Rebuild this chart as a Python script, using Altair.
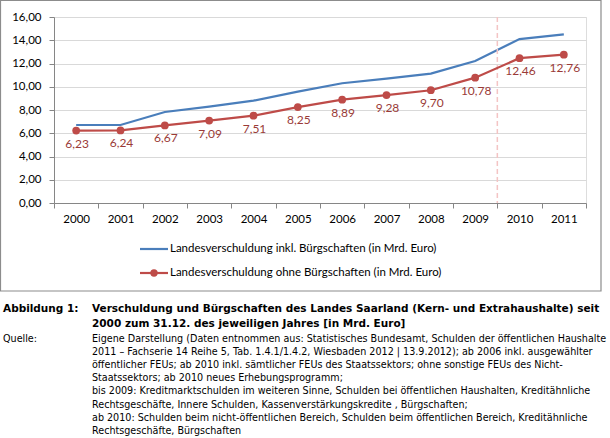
import altair as alt
import pandas as pd

years = ["2000", "2001", "2002", "2003", "2004", "2005", "2006", "2007", "2008", "2009", "2010", "2011"]
inkl = [6.71, 6.71, 7.83, 8.29, 8.80, 9.58, 10.30, 10.70, 11.13, 12.22, 14.10, 14.50]
ohne = [6.23, 6.24, 6.67, 7.09, 7.51, 8.25, 8.89, 9.28, 9.70, 10.78, 12.46, 12.76]
y_ticks = [0, 2, 4, 6, 8, 10, 12, 14, 16]
break_year = ["2010"]

series_inkl = "Landesverschuldung inkl. Bürgschaften (in Mrd. Euro)"
series_ohne = "Landesverschuldung ohne Bürgschaften (in Mrd. Euro)"

caption_label = "Abbildung 1:"
caption_title = ["Verschuldung und Bürgschaften des Landes Saarland (Kern- und Extrahaushalte) seit",
                 "2000 zum 31.12. des jeweiligen Jahres [in Mrd. Euro]"]
source_label = "Quelle:"
caption_source = [
    "Eigene Darstellung (Daten entnommen aus: Statistisches Bundesamt, Schulden der öffentlichen Haushalte",
    "2011 – Fachserie 14 Reihe 5, Tab. 1.4.1/1.4.2,  Wiesbaden 2012 |  13.9.2012);  ab 2006 inkl. ausgewählter",
    "öffentlicher FEUs; ab 2010 inkl.  sämtlicher FEUs des Staatssektors; ohne sonstige FEUs des Nicht-",
    "Staatssektors; ab 2010 neues Erhebungsprogramm;",
    "bis 2009:  Kreditmarktschulden im weiteren Sinne, Schulden bei öffentlichen Haushalten, Kreditähnliche",
    "Rechtsgeschäfte, Innere Schulden, Kassenverstärkungskredite , Bürgschaften;",
    "ab 2010:  Schulden beim nicht-öffentlichen Bereich, Schulden beim öffentlichen Bereich, Kreditähnliche",
    "Rechtsgeschäfte, Bürgschaften",
]

W, H = 532, 186
PL, PT = 54, 17
BLUE = "#4A7EBB"
RED = "#BE4B48"
LABEL_RED = "#9A3A37"
FONT = "Lato"
CAP_FONT = "DejaVu Sans"

df = pd.DataFrame({"year": years, "inkl": inkl, "ohne": ohne})
df["label"] = [f"{v:.2f}".replace(".", ",") for v in ohne]

x_axis = alt.Axis(tickBand="extent", labelAngle=0, domainColor="#868686",
                  tickColor="#868686", tickSize=5, labelPadding=5,
                  labelFont=FONT, labelFontSize=11.5, labelColor="#000000", grid=False, title=None)
xscale = alt.Scale(paddingInner=0, paddingOuter=0)
yscale = alt.Scale(domain=[0, 16], nice=False, zero=True)
y_axis = alt.Axis(values=y_ticks, labelOverlap=False,
                  labelExpr="replace(format(datum.value, '.2f'), '.', ',')",
                  grid=True, gridColor="#D9D9D9", domainColor="#868686", tickColor="#868686",
                  tickSize=5, labelPadding=8, labelFont=FONT, labelFontSize=11.5,
                  labelColor="#000000", title=None)


def X(**kw):
    return alt.X("year:N", sort=years, scale=xscale, axis=x_axis, **kw)


def Y(field):
    return alt.Y(field, type="quantitative", scale=yscale, axis=y_axis)


base = alt.Chart(df)

line_inkl = base.mark_line(color=BLUE, strokeWidth=2.2).encode(x=X(), y=Y("inkl"))
line_ohne = base.mark_line(color=RED, strokeWidth=2.2).encode(x=X(), y=Y("ohne"))
pts_ohne = base.mark_circle(color=RED, size=60, opacity=1).encode(x=X(), y=Y("ohne"))
lbl_ohne = base.mark_text(color=LABEL_RED, font=FONT, fontSize=12, dy=13, dx=1,
                          baseline="middle").encode(x=X(), y=Y("ohne"), text="label:N")

brk = alt.Chart(pd.DataFrame({"year": break_year})).mark_rule(
    color="#F4C4C4", strokeDash=[5, 3], strokeWidth=1.5).encode(
    x=X(bandPosition=0), y=alt.value(0), y2=alt.value(H))

one = pd.DataFrame({"k": [0]})
frame = alt.Chart(one).mark_rect(fill=None, stroke="#8C8C8C", strokeWidth=1.2).encode(
    x=alt.value(-PL + 0.5), x2=alt.value(601 - PL), y=alt.value(-PT + 0.5), y2=alt.value(291 - PT))


def text_at(txt, px, py, **kw):
    return alt.Chart(pd.DataFrame({"t": [txt]})).mark_text(
        align="left", baseline="middle", color="#000000", **kw).encode(
        x=alt.value(px - PL), y=alt.value(py - PT), text="t:N")


# legend
leg_blue = alt.Chart(one).mark_rule(color=BLUE, strokeWidth=2.2).encode(
    x=alt.value(140 - PL), x2=alt.value(168 - PL), y=alt.value(249 - PT))
leg_red = alt.Chart(one).mark_rule(color=RED, strokeWidth=2.2).encode(
    x=alt.value(140 - PL), x2=alt.value(168 - PL), y=alt.value(273 - PT))
leg_red_pt = alt.Chart(one).mark_circle(color=RED, size=55, opacity=1).encode(
    x=alt.value(154 - PL), y=alt.value(273 - PT))
legend_layers = [leg_blue, leg_red, leg_red_pt,
                 text_at(series_inkl, 170, 249, font=FONT, fontSize=11.5),
                 text_at(series_ohne, 170, 273, font=FONT, fontSize=11.5)]

# caption
cap_layers = [text_at(caption_label, 3, 308.5, font=CAP_FONT, fontSize=10.5, fontWeight="bold")]
for i, t in enumerate(caption_title):
    cap_layers.append(text_at(t, 92, 308.5 + 15 * i, font=CAP_FONT, fontSize=10.5, fontWeight="bold"))
cap_layers.append(text_at(source_label, 3, 339, font=CAP_FONT, fontSize=9.6))
for i, t in enumerate(caption_source):
    cap_layers.append(text_at(t, 92, 339 + 13.1 * i, font=CAP_FONT, fontSize=9.6))

chart = alt.layer(
    frame, line_inkl, brk, line_ohne, pts_ohne, lbl_ohne,
    *legend_layers, *cap_layers,
).properties(
    width=W, height=H,
    autosize=alt.AutoSizeParams(type="none"),
    padding={"left": PL, "top": PT, "right": 610 - PL - W, "bottom": 438 - PT - H},
).configure_view(stroke=None).configure(background="white")

chart.save("out.html", embed_options={"renderer": "svg", "actions": False})
